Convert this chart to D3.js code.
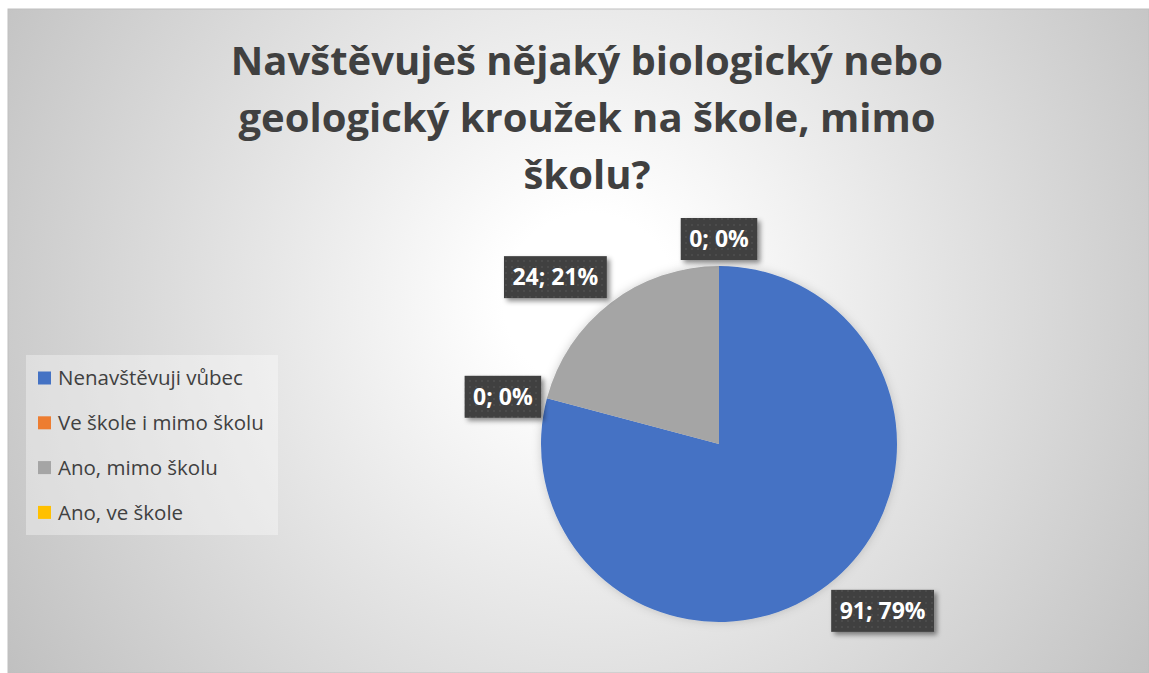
<!DOCTYPE html>
<html><head><meta charset="utf-8">
<script src="https://cdn.jsdelivr.net/npm/d3@7"></script>
<style>html,body{margin:0;padding:0;background:#fff;}svg{display:block;}</style>
</head><body>
<script>
const titleLines = ["Navštěvuješ nějaký biologický nebo", "geologický kroužek na škole, mimo", "školu?"];
const categories = ["Nenavštěvuji vůbec", "Ve škole i mimo školu", "Ano, mimo školu", "Ano, ve škole"];
const values = [91, 0, 24, 0];
const percents = ["79%", "0%", "21%", "0%"];
const colors = ["#4472C4", "#ED7D31", "#A5A5A5", "#FFC000"];

const W = 1149, H = 673;
const svg = d3.select("body").append("svg").attr("width", W).attr("height", H);
const defs = svg.append("defs");

const rg = defs.append("radialGradient").attr("id", "bg")
  .attr("gradientUnits", "userSpaceOnUse")
  .attr("cx", 590).attr("cy", 300).attr("r", 720);
rg.append("stop").attr("offset", "0").attr("stop-color", "#ffffff");
rg.append("stop").attr("offset", "0.12").attr("stop-color", "#ffffff");
rg.append("stop").attr("offset", "1").attr("stop-color", "#bdbdbd");

const pat = defs.append("pattern").attr("id", "dots").attr("patternUnits", "userSpaceOnUse")
  .attr("width", 6).attr("height", 6);
pat.append("rect").attr("width", 6).attr("height", 6).attr("fill", "#404040");
pat.append("circle").attr("cx", 3).attr("cy", 3).attr("r", 0.8).attr("fill", "#5a5a5a");

const sh = defs.append("filter").attr("id", "shadow").attr("x", "-20%").attr("y", "-20%").attr("width", "150%").attr("height", "160%");
sh.append("feDropShadow").attr("dx", 3).attr("dy", 3).attr("stdDeviation", 2.5).attr("flood-color", "#000").attr("flood-opacity", 0.45);
const psh = defs.append("filter").attr("id", "pshadow").attr("x", "-20%").attr("y", "-20%").attr("width", "140%").attr("height", "140%");
psh.append("feDropShadow").attr("dx", 0).attr("dy", 0).attr("stdDeviation", 5).attr("flood-color", "#000").attr("flood-opacity", 0.18);

svg.append("rect").attr("x", 8).attr("y", 9).attr("width", W - 8).attr("height", H - 9)
  .attr("fill", "url(#bg)").attr("stroke", "#bfbfbf").attr("stroke-width", 1);

// Title
const title = svg.append("text").attr("text-anchor", "middle")
  .attr("font-family", "'Open Sans', sans-serif").attr("font-weight", 700)
  .attr("font-size", 40).attr("fill", "#404040");
titleLines.forEach((t, i) => {
  title.append("tspan").attr("x", 587).attr("y", 75 + i * 57).text(t);
});

// Legend
svg.append("rect").attr("x", 26).attr("y", 355).attr("width", 252).attr("height", 180)
  .attr("fill", "#ffffff").attr("fill-opacity", 0.35);
const leg = svg.append("g").selectAll("g").data(categories).join("g")
  .attr("transform", (d, i) => `translate(38,${378 + i * 44.8})`);
leg.append("rect").attr("x", 0).attr("y", -6.5).attr("width", 13).attr("height", 13)
  .attr("fill", (d, i) => colors[i]);
leg.append("text").attr("x", 20).attr("y", 0).attr("dy", "0.35em")
  .attr("font-family", "'Open Sans', sans-serif").attr("font-size", 20.5).attr("fill", "#404040")
  .text(d => d);

// Pie
const cx = 719, cy = 444, r = 178;
const pie = d3.pie().sort(null).value(d => d);
const arcs = pie(values);
const arc = d3.arc().innerRadius(0).outerRadius(r);
const pg = svg.append("g").attr("transform", `translate(${cx},${cy})`);
pg.append("g").attr("filter", "url(#pshadow)").selectAll("path").data(arcs).join("path")
  .attr("d", arc).attr("fill", (d, i) => colors[i]);

// Labels
const lg = pg.append("g");
arcs.forEach((a, i) => {
  const mid = (a.startAngle + a.endAngle) / 2;
  const dx = Math.sin(mid), dy = -Math.cos(mid);
  const px = (r + 6) * dx, py = (r + 6) * dy;
  const g = lg.append("g");
  const txt = g.append("text").attr("text-anchor", "middle").attr("dy", "0.36em")
    .attr("font-family", "'Open Sans', sans-serif").attr("font-weight", 700)
    .attr("font-size", 23).attr("fill", "#ffffff")
    .text(values[i] + "; " + percents[i]);
  const tw = txt.node().getComputedTextLength();
  const w = tw + 17, h = 42;
  let x0 = dx > 0.3 ? px : (dx < -0.3 ? px - w : px - w / 2);
  let y0 = dy > 0.3 ? py : (dy < -0.3 ? py - h : py - h / 2);
  g.insert("rect", "text").attr("x", x0).attr("y", y0).attr("width", w).attr("height", h)
    .attr("fill", "url(#dots)").attr("filter", "url(#shadow)");
  txt.attr("x", x0 + w / 2).attr("y", y0 + h / 2);
});
</script>
</body></html>
